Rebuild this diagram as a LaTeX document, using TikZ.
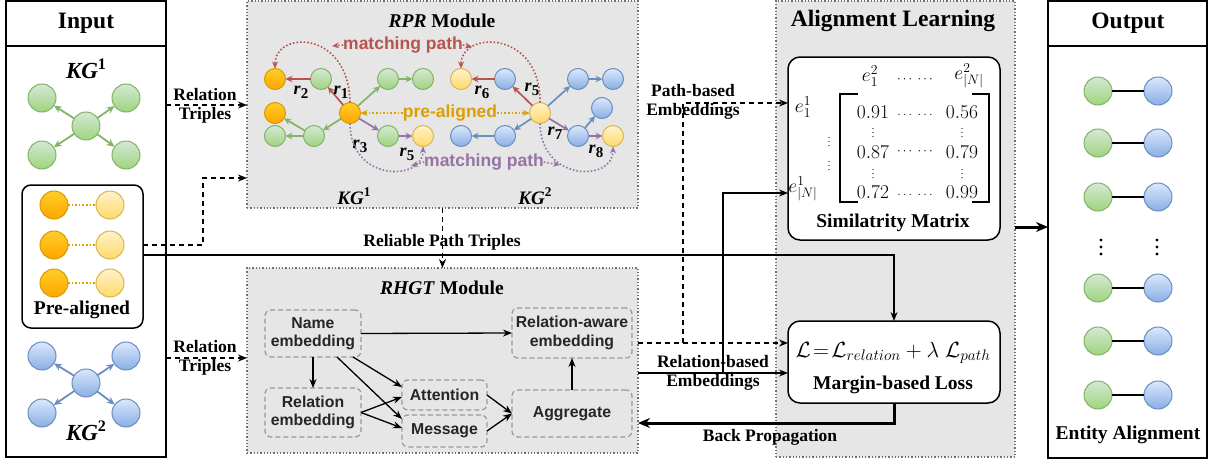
\RequirePackage{fix-cm}
\documentclass[tikz,border=0pt]{standalone}
\usepackage[no-math]{fontspec}
\setmainfont{Liberation Serif}
\setsansfont{Liberation Sans}
\usetikzlibrary{arrows.meta,calc}
\definecolor{gA}{HTML}{D5E8D4}\definecolor{gB}{HTML}{9ED47F}\definecolor{gline}{HTML}{82B366}
\definecolor{bA}{HTML}{DAE8FC}\definecolor{bB}{HTML}{89AEE3}\definecolor{bline}{HTML}{6C8EBF}
\definecolor{oA}{HTML}{FFCD28}\definecolor{oB}{HTML}{FFA500}\definecolor{oline}{HTML}{D79B00}
\definecolor{yA}{HTML}{FFF2CC}\definecolor{yB}{HTML}{FFD966}\definecolor{yline}{HTML}{D6B656}
\definecolor{redc}{HTML}{B85450}\definecolor{purc}{HTML}{9673A6}\definecolor{orc}{HTML}{DBA000}
\definecolor{panelgray}{HTML}{E6E6E6}\definecolor{dotgray}{HTML}{707070}\definecolor{dgray}{HTML}{999999}
\newcommand{\rlab}[1]{\textbf{\textit{r}}\raisebox{-0.45ex}{\fontsize{15}{15}\selectfont\textbf{#1}}}
\newcommand{\kgl}[1]{\textbf{\textit{KG}}\raisebox{0.9ex}{\fontsize{0.7em}{1em}\selectfont\textbf{#1}}}
\tikzset{
  every node/.style={inner sep=0pt, outer sep=0pt},
  whitepanel/.style={draw=black, line width=1.5pt, fill=white, anchor=north west},
  graypanel/.style={draw=dotgray, dotted, line width=1.3pt, fill=panelgray, anchor=north west},
  hdr/.style={font=\fontsize{23.5}{26}\selectfont\bfseries},
  lab/.style={font=\fontsize{17.5}{19}\selectfont\bfseries, align=center},
  lab2/.style={font=\fontsize{19.5}{22}\selectfont\bfseries, align=center},
  inner/.style={draw=dgray, dashed, dash pattern=on 5pt off 3pt, line width=1.2pt, rounded corners=6pt, anchor=north west},
  intext/.style={font=\fontsize{15.8}{18.5}\selectfont\sffamily\bfseries, align=center, text=black!85},
  gN/.style={circle, draw=gline, line width=1pt, top color=gA, bottom color=gB, minimum size=#1},
  gN/.default=28pt,
  bN/.style={circle, draw=bline, line width=1pt, top color=bA, bottom color=bB, minimum size=#1},
  bN/.default=28pt,
  oN/.style={circle, draw=oline, line width=1pt, top color=oA, bottom color=oB, minimum size=#1},
  oN/.default=28pt,
  yN/.style={circle, draw=yline, line width=1pt, top color=yA, bottom color=yB, minimum size=#1},
  yN/.default=28pt,
  arr/.style={-{Stealth[length=9pt,width=7pt]}, line width=1.3pt},
  darr/.style={arr, dash pattern=on 5pt off 4pt, line width=1.5pt},
  earr/.style={-{Stealth[length=7pt,width=6.5pt]}, line width=1.7pt},
  garr/.style={-{Stealth[length=8pt,width=7pt]}, line width=1.8pt, draw=#1},
  mdot/.style={dotted, line width=1.6pt, draw=#1, -{Stealth[length=7pt,width=6pt]}},
  rlabel/.style={font=\fontsize{18}{20}\selectfont},
}
\begin{document}
\begin{tikzpicture}[x=1pt,y=-1pt]
\useasboundingbox (0,0) rectangle (1213,466);
% ---------- panels
\node[whitepanel, minimum width=160pt, minimum height=456pt] (inp) at (6,1) {};
\draw[line width=1.5pt] (inp.north west |- 0,46) -- (inp.north east |- 0,46);
\node[hdr] (inpt) at (86,23) {Input};
\node[whitepanel, minimum width=159pt, minimum height=457pt] (out) at (1048,1) {};
\draw[line width=1.5pt] (out.north west |- 0,46) -- (out.north east |- 0,46);
\node[hdr] (outt) at (1128,23) {Output};
\node[graypanel, minimum width=391pt, minimum height=207pt] (rpr) at (247,1) {};
\node[graypanel, minimum width=391pt, minimum height=185pt] (rhgt) at (247,268) {};
\node[graypanel, minimum width=239pt, minimum height=456pt] (align) at (776,1) {};
\node[hdr] (alignt) at (893,21) {Alignment Learning};
\node[lab2] (rprt) at (442,21) {\textit{RPR} Module};
\node[lab2] (rhgtt) at (442,288) {\textit{RHGT} Module};

% ---------- Input panel
\node[font=\fontsize{23}{26}\selectfont] (kg1l) at (86,69) {\kgl{1}};
\node[gN] (k1c) at (86,126) {};
\node[gN] (k1a) at (42,98) {};
\node[gN] (k1b) at (126,98) {};
\node[gN] (k1d) at (42,155) {};
\node[gN] (k1e) at (126,155) {};
\foreach \t in {k1a,k1b,k1d,k1e} \draw[garr=gline] (k1c) -- (\t);
\node[draw=black, line width=1.5pt, rounded corners=9pt, anchor=north west, minimum width=121pt, minimum height=143pt, fill=white] (pre) at (22,185) {};
\foreach \i/\y in {1/205,2/245,3/283}{
  \node[oN] (pa\i) at (54,\y) {};
  \node[yN] (pb\i) at (110,\y) {};
  \draw[dotted, line width=1.6pt, draw=orc] (pa\i) -- (pb\i);
}
\node[lab2] (prel) at (82,310) {Pre-aligned};
\node[bN] (k2c) at (86,383) {};
\node[bN] (k2a) at (42,356) {};
\node[bN] (k2b) at (126,356) {};
\node[bN] (k2d) at (42,413) {};
\node[bN] (k2e) at (126,413) {};
\foreach \t in {k2a,k2b,k2d,k2e} \draw[garr=bline] (k2c) -- (\t);
\node[font=\fontsize{23}{26}\selectfont] (kg2l) at (86,431) {\kgl{2}};

% ---------- Output panel
\foreach \i/\y in {1/91,2/143,3/197,4/288,5/341,6/395}{
  \node[gN] (og\i) at (1098,\y) {};
  \node[bN] (ob\i) at (1158,\y) {};
  \draw[line width=1.3pt] (og\i) -- (ob\i);
}
\foreach \x in {1101,1157}\foreach \y in {240,247,254} \fill (\x,\y) circle (1.7pt);
\node[lab2] (eal) at (1128,435) {Entity Alignment};

% ---------- RPR module
\def\rs{21pt}
\node[oN=\rs] (oa) at (275,79) {};
\node[oN=\rs] (ob) at (275,113) {};
\node[gN=\rs] (g1) at (321,79) {};
\node[oN=\rs] (c1) at (350,113) {};
\node[gN=\rs] (g2) at (388,79) {};
\node[gN=\rs] (g3) at (423,79) {};
\node[gN=\rs] (g4) at (275,136) {};
\node[gN=\rs] (g5) at (314,136) {};
\node[gN=\rs] (g6) at (388,136) {};
\node[yN=\rs] (ya) at (423,136) {};
\node[yN=\rs] (yb) at (461,79) {};
\node[bN=\rs] (b1) at (505,79) {};
\node[yN=\rs] (c2) at (540,113) {};
\node[bN=\rs] (b2) at (578,79) {};
\node[bN=\rs] (b3) at (613,79) {};
\node[bN=\rs] (b4) at (602,108) {};
\node[bN=\rs] (b5) at (578,136) {};
\node[yN=\rs] (yc) at (613,136) {};
\node[bN=\rs] (b6) at (461,136) {};
\node[bN=\rs] (b7) at (505,136) {};
\draw[earr, draw=redc] (c1) -- (g1);
\draw[earr, draw=redc] (g1) -- (oa);
\draw[earr, draw=redc] (c2) -- (b1);
\draw[earr, draw=redc] (b1) -- (yb);
\draw[earr, draw=gline] (c1) -- (g2);
\draw[earr, draw=gline] (g2) -- (g3);
\draw[earr, draw=gline] (c1) -- (g5);
\draw[earr, draw=gline] (g5) -- (ob);
\draw[earr, draw=gline] (g5) -- (g4);
\draw[earr, draw=purc] (c1) -- (g6);
\draw[earr, draw=purc] (g6) -- (ya);
\draw[earr, draw=purc] (c2) -- (b5);
\draw[earr, draw=purc] (b5) -- (yc);
\draw[earr, draw=bline] (c2) -- (b2);
\draw[earr, draw=bline] (b2) -- (b3);
\draw[earr, draw=bline] (c2) -- (b7);
\draw[earr, draw=bline] (b7) -- (b6);
\draw[earr, draw=bline] (b5) -- (b4);
\node[rlabel] (r1) at (341,92) {\rlab{1}};
\node[rlabel] (r2) at (301,92) {\rlab{2}};
\node[rlabel] (r3) at (360,146) {\rlab{3}};
\node[rlabel] (r5a) at (407,154) {\rlab{5}};
\node[rlabel] (r6) at (482,92) {\rlab{6}};
\node[rlabel] (r5b) at (532,89) {\rlab{5}};
\node[rlabel] (r7) at (555,133) {\rlab{7}};
\node[rlabel] (r8) at (596,151) {\rlab{8}};
% pre-aligned
\node[font=\fontsize{17.5}{19}\selectfont\sffamily\bfseries, text=orc] (pal) at (450,113) {pre-aligned};
\draw[mdot=orc] (pal.west) -- (c1.east);
\draw[mdot=orc] (pal.east) -- (c2.west);
% matching paths (red)
\draw[mdot=redc] (c1.north) .. controls (349,30) and (275,30) .. (oa.north);
\draw[mdot=redc] (c2.north) .. controls (541,30) and (461,30) .. (yb.north);
\node[font=\fontsize{17.5}{19}\selectfont\sffamily\bfseries, text=redc] (mp1) at (403,45) {matching path};
\coordinate (mp1l) at (332,46);
\coordinate (mp1r) at (472,47);
\draw[mdot=redc] (mp1.west) -- (mp1l);
\draw[mdot=redc] (mp1.east) -- (mp1r);
% matching paths (purple)
\draw[mdot=purc] (c1.south) .. controls (350,182) and (423,182) .. (ya.south);
\draw[mdot=purc] (c2.south) .. controls (541,182) and (613,182) .. (yc.south);
\node[font=\fontsize{17.5}{19}\selectfont\sffamily\bfseries, text=purc] (mp2) at (484,162) {matching path};
\coordinate (mp2l) at (411,166);
\coordinate (mp2r) at (560,165);
\draw[mdot=purc] (mp2.west) -- (mp2l);
\draw[mdot=purc] (mp2.east) -- (mp2r);
\node[font=\fontsize{19}{22}\selectfont] (rkg1) at (354,196) {\kgl{1}};
\node[font=\fontsize{19}{22}\selectfont] (rkg2) at (535,196) {\kgl{2}};

% ---------- RHGT module
\node[inner, minimum width=96pt, minimum height=47pt] (name) at (265,310) {};
\node[intext] (namet) at (name.center) {Name\\embedding};
\node[inner, minimum width=96pt, minimum height=49pt] (remb) at (265,388) {};
\node[intext] (rembt) at (remb.center) {Relation\\embedding};
\node[inner, minimum width=85pt, minimum height=30pt] (att) at (402,380) {};
\node[intext] (attt) at (att.center) {Attention};
\node[inner, minimum width=85pt, minimum height=32pt] (msg) at (402,415) {};
\node[intext] (msgt) at (msg.center) {Message};
\node[inner, minimum width=120pt, minimum height=47pt] (agg) at (512,390) {};
\node[intext] (aggt) at (agg.center) {Aggregate};
\node[inner, minimum width=120pt, minimum height=50pt] (raw) at (512,308) {};
\node[intext] (rawt) at (raw.center) {Relation-aware\\embedding};
\draw[arr] (name.east) -- (raw.west);
\draw[arr] (name.south) -- (remb.north);
\draw[arr] ([xshift=24pt]name.south) -- ([yshift=12pt]msg.west);
\draw[arr] ([xshift=40pt]name.south) -- ([yshift=8pt]att.west);
\draw[arr] (remb.east) -- ([yshift=-2pt]att.west);
\draw[arr] (remb.east) -- ([yshift=3pt]msg.west);
\draw[arr] (att.east) -- (agg.west);
\draw[arr] (msg.east) -- (agg.west);
\draw[arr] (agg.north) -- (raw.south);

% ---------- Alignment learning
\node[draw=black, line width=1.5pt, rounded corners=12pt, fill=white, anchor=north west, minimum width=212pt, minimum height=183pt] (sim) at (788,57) {};
\node[draw=black, line width=1.5pt, rounded corners=12pt, fill=white, anchor=north west, minimum width=212pt, minimum height=82pt] (loss) at (788,321) {};
\begin{scope}[every node/.style={font=\fontsize{19.5}{22}\selectfont, inner sep=0pt}]
\node (e12) at (870,76) {$e^2_1$};
\node (e1N) at (969,76) {$e^2_{|N|}$};
\node (e11) at (803,107) {$e^1_1$};
\node (eN1) at (803,189) {$e^1_{|N|}$};
\node (v11) at (873,112) {$0.91$};
\node (v12) at (962,112) {$0.56$};
\node (v21) at (873,152) {$0.87$};
\node (v22) at (962,152) {$0.79$};
\node (v31) at (873,192) {$0.72$};
\node (v32) at (962,192) {$0.99$};
\end{scope}
\begin{scope}[every node/.style={font=\fontsize{13}{14}\selectfont, inner sep=0pt}]
\node (d0) at (915,80) {$\cdots\ \cdots$};
\node (d1) at (915,115) {$\ldots\ \ldots$};
\node (d2) at (915,152) {$\cdots\ \cdots$};
\node (d3) at (915,195) {$\ldots\ \ldots$};
\end{scope}
\begin{scope}[every node/.style={font=\fontsize{10}{11}\selectfont, inner sep=0pt}]
\foreach \x/\y in {829/139,829/163,873/130,962/130,873/171,962/171} \node at (\x,\y) {$\vdots$};
\end{scope}
\draw[line width=1.5pt] (858,94) -- (840,94) -- (840,202) -- (858,202);
\draw[line width=1.5pt] (972,94) -- (989,94) -- (989,202) -- (972,202);
\node[lab2] (simt) at (893,223) {Similatrity Matrix};
\node[font=\fontsize{22}{24}\selectfont] (form) at (893,353) {$\mathcal{L}\!=\!\mathcal{L}_{relation}+\lambda\;\mathcal{L}_{path}$};
\node[lab2] (losst) at (893,385) {Margin-based Loss};

% ---------- connectors
\coordinate (h105) at (0,105);
\coordinate (h245) at (0,245);
\coordinate (h255) at (0,255);
\coordinate (h358) at (0,358);
\coordinate (h343) at (0,343);
\coordinate (h373) at (0,373);
\coordinate (h103) at (0,103);
\coordinate (h193) at (0,193);
\coordinate (h423) at (0,423);
\coordinate (h227) at (0,227);
\coordinate (j1) at (203,178);
\coordinate (j2) at (683,343);
\coordinate (j3) at (723,373);
\draw[darr] (inp.east |- h105) -- (rpr.west |- h105);
\node[lab] (rt1) at (205,106) {Relation\\Triples};
\draw[darr] (pre.east |- h245) -| (j1) -- (rpr.west |- j1);
\draw[arr] (pre.east |- h255) -| (loss.north);
\draw[darr] (rpr.south) -- (rhgt.north);
\node[lab] (rpt) at (442,242) {Reliable Path Triples};
\draw[darr] (inp.east |- h358) -- (rhgt.west |- h358);
\node[lab] (rt2) at (205,358) {Relation\\Triples};
\draw[darr] (rhgt.east |- h343) -- (loss.west |- h343);
\draw[darr] (j2) |- (sim.west |- h103);
\draw[arr] (rhgt.east |- h373) -- (loss.west |- h373);
\draw[arr] (j3) |- (sim.west |- h193);
\node[lab] (pbe) at (693,102) {Path-based\\Embeddings};
\node[lab] (rbe) at (713,373) {Relation-based\\Embeddings};
\draw[-{Stealth[length=12pt,width=10pt]}, line width=3pt] (loss.south) |- (rhgt.east |- h423);
\node[lab] (bpl) at (770,437) {Back Propagation};
\draw[-{Stealth[length=12pt,width=10pt]}, line width=3pt] (align.east |- h227) -- (out.west |- h227);
\end{tikzpicture}
\end{document}
